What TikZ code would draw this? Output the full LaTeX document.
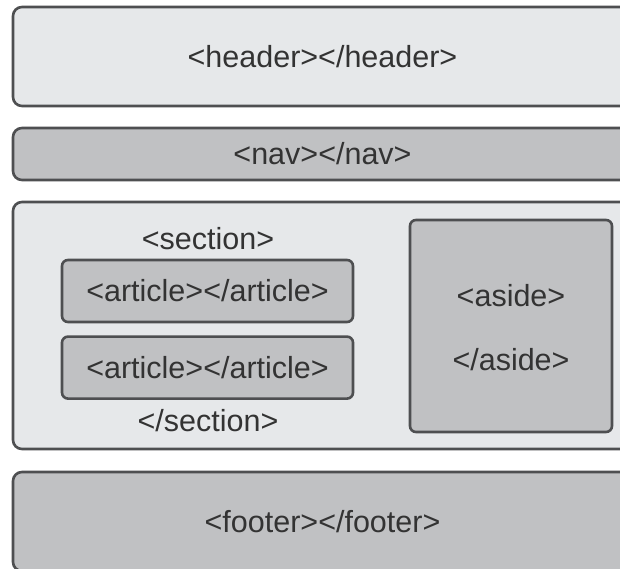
\documentclass[tikz,border=0pt]{standalone}
\usepackage{fontspec}
\setmainfont{Liberation Sans}
\usetikzlibrary{positioning}
\definecolor{lightbox}{HTML}{E6E8EA}
\definecolor{darkbox}{HTML}{C0C1C3}
\definecolor{edgegray}{HTML}{4E4F51}
\definecolor{tagtext}{HTML}{333333}
\tikzset{
  tagbox/.style={draw=edgegray,line width=2.6pt,rounded corners=9pt,inner sep=0pt,
                 text=tagtext,font=\fontsize{30.5}{35}\selectfont},
  outerbox/.style={tagbox,fill=lightbox,minimum width=619pt},
  barbox/.style={tagbox,fill=darkbox,minimum width=619pt},
  innerbox/.style={tagbox,fill=darkbox,rounded corners=6pt},
  tag/.style={text=tagtext,font=\fontsize{30.5}{35}\selectfont,inner sep=0pt}
}

\begin{document}
\begin{tikzpicture}[x=1pt,y=-1pt]
  \useasboundingbox[fill=white] (0,0) rectangle (620,569);
  \clip (0,0) rectangle (620,569);
  % page parts
  \node[outerbox,minimum height=99pt] (header) at (322.5,56.5) {<header></header>};
  \node[barbox,minimum height=52pt] (nav) at (322.5,154) {<nav></nav>};
  \node[outerbox,minimum height=247pt] (main) at (322.5,325.5) {};
  \node[barbox,minimum height=99pt] (footer) at (322.5,521.5) {<footer></footer>};
  % section with its articles
  \node[tag] (sectionopen) at (208,239) {<section>};
  \node[innerbox,minimum width=291pt,minimum height=62pt] (article1) at (207.5,291) {<article></article>};
  \node[innerbox,minimum width=291pt,minimum height=62pt,below=12pt of article1] (article2) {<article></article>};
  \node[tag] (sectionclose) at (208,421) {</section>};
  % aside
  \node[innerbox,minimum width=202pt,minimum height=212pt] (aside) at (511,326) {};
  \node[tag] (asideopen) at (511,296) {<aside>};
  \node[tag] (asideclose) at (511,360) {</aside>};
\end{tikzpicture}
\end{document}
